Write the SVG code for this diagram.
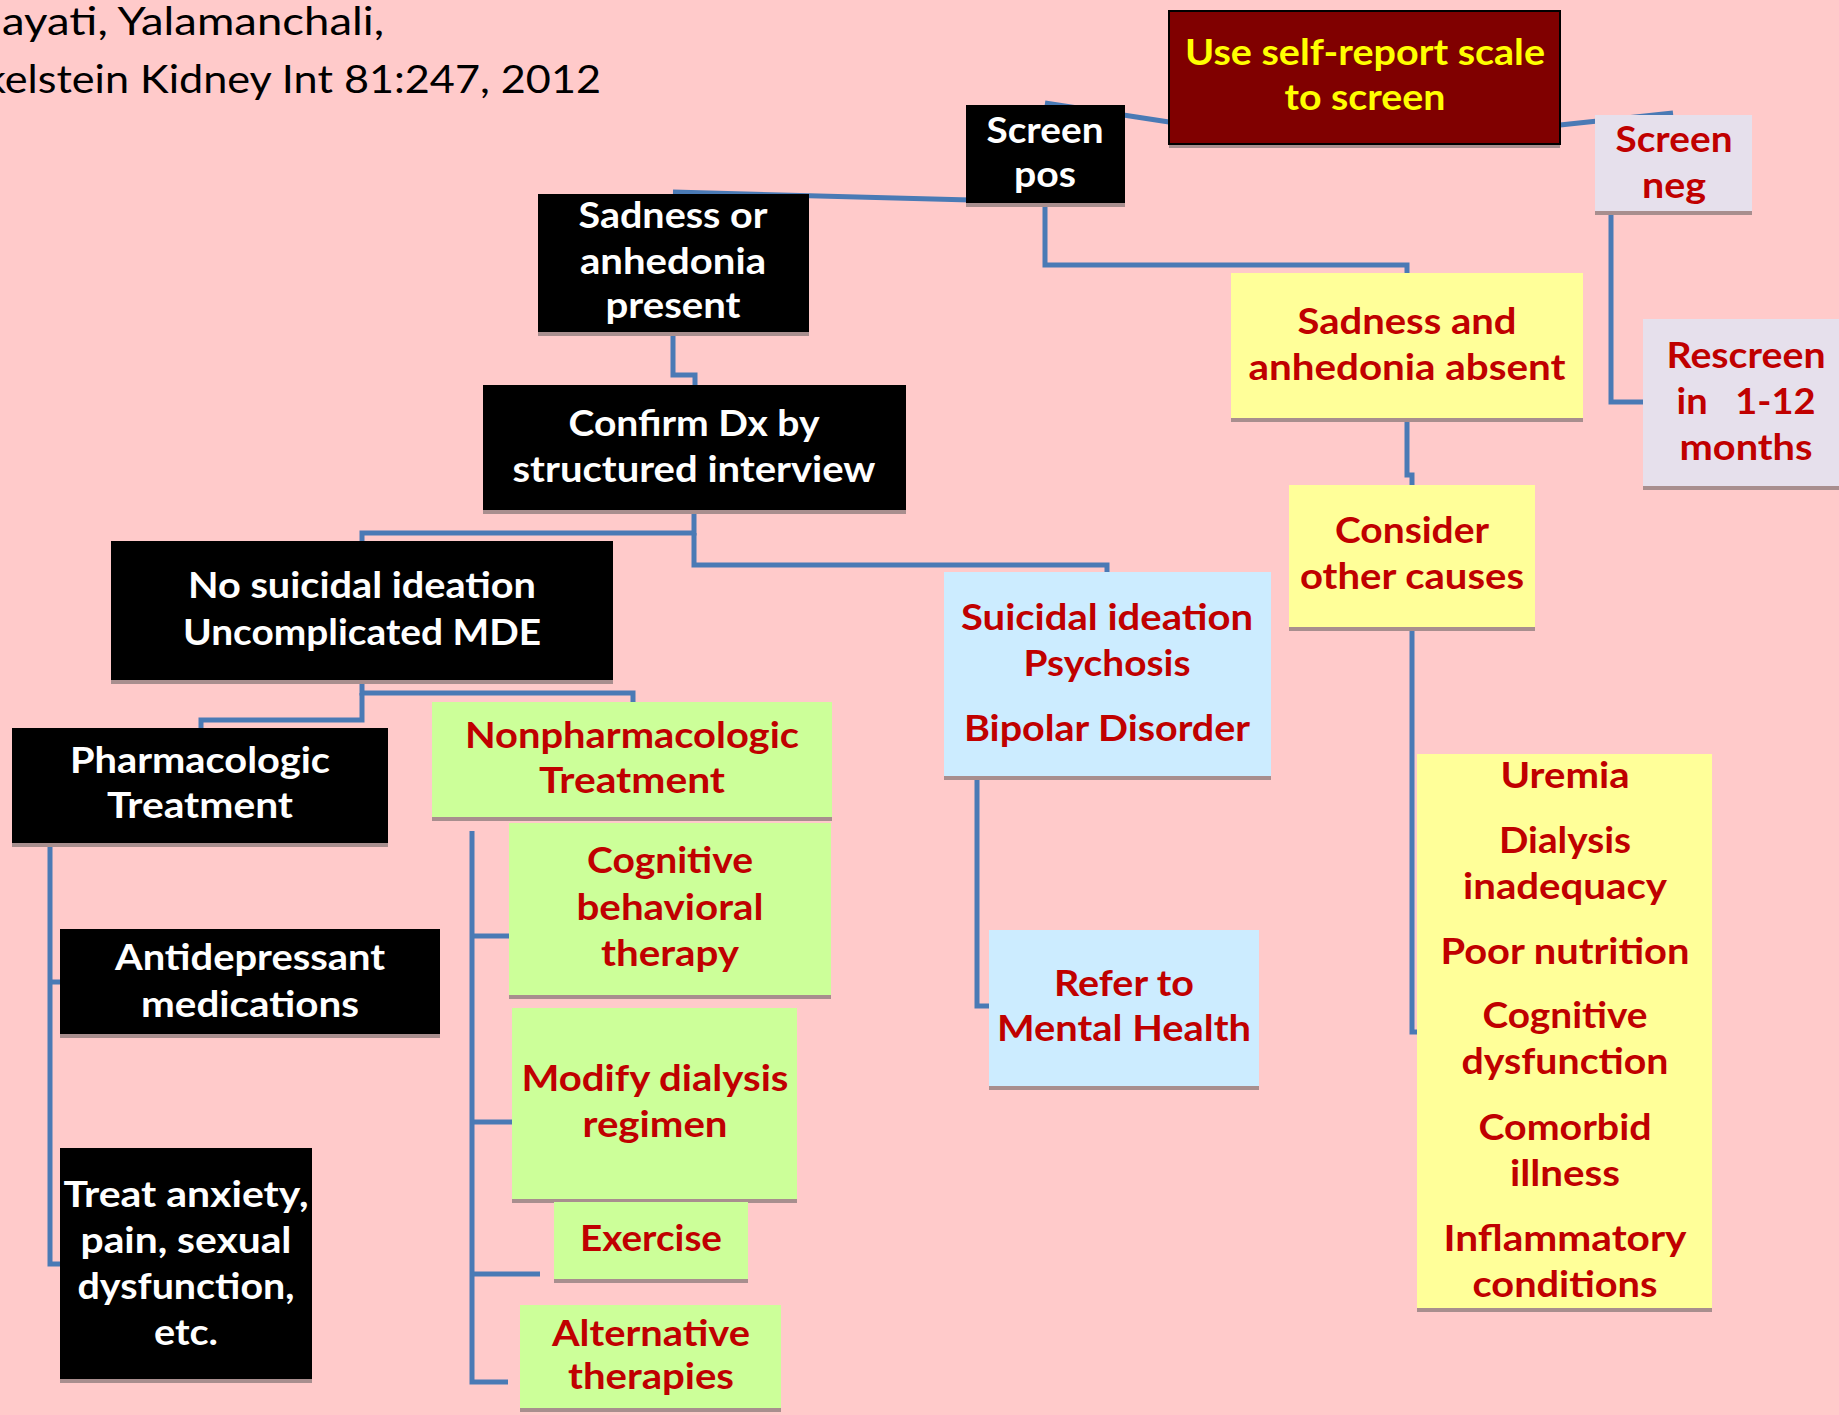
<svg xmlns="http://www.w3.org/2000/svg" width="1839" height="1415" viewBox="0 0 1839 1415">
<style>
.bg{fill:#FFCACA}
.sh{fill:#A88E8E}
.blk{fill:#000000}
.grn{fill:#CCFF99}
.yel{fill:#FFFF99}
.blu{fill:#CCECFF}
.lav{fill:#E6E0EC}
.ttl{fill:#800000;stroke:#000000;stroke-width:2}
text{font-family:Lato,"Open Sans","DejaVu Sans",sans-serif;font-weight:bold;font-size:37px;text-anchor:middle}
.w{fill:#FFFFFF}
.r{fill:#C00000}
.y{fill:#FFFF00}
.cite{font-weight:normal;font-size:39px;fill:#000000;text-anchor:start}
.conn{fill:none;stroke:#4A7AB5;stroke-width:5}
</style>
<rect class="bg" x="0" y="0" width="1839" height="1415"/>

<g id="citation">
<text class="cite" x="2" y="35" textLength="382" lengthAdjust="spacingAndGlyphs">ayati, Yalamanchali,</text>
<text class="cite" x="-16" y="93" textLength="617" lengthAdjust="spacingAndGlyphs">kelstein Kidney Int 81:247, 2012</text>
</g>

<g id="connectors">
<path class="conn" d="M1045,103 L1169,122"/>
<path class="conn" d="M1560,125 L1673,113"/>
<path class="conn" d="M673,192 L1045,202"/>
<path class="conn" d="M1045,203 V265 H1407 V273"/>
<path class="conn" d="M1611,211 V402 H1643"/>
<path class="conn" d="M1407,418 V475 H1412 V485"/>
<path class="conn" d="M1412,627 V1032 H1417"/>
<path class="conn" d="M673,332 V375 H695 V385"/>
<path class="conn" d="M694,510 V533 H362 V541"/>
<path class="conn" d="M694,533 V565 H1107 V572"/>
<path class="conn" d="M362,680 V693 H633 V702"/>
<path class="conn" d="M362,693 V720 H201 V728"/>
<path class="conn" d="M50,843 V1264 H60 M50,982 H60"/>
<path class="conn" d="M472,831 V1382 H508 M472,936 H509 M472,1122 H512 M472,1274 H540"/>
<path class="conn" d="M977,776 V1006 H989"/>
</g>

<g id="title">
<rect class="sh" x="1169" y="15" width="391" height="133"/>
<rect class="ttl" x="1169" y="11" width="391" height="133"/>
<text class="y" x="1365" y="65" textLength="360" lengthAdjust="spacingAndGlyphs">Use self-report scale</text>
<text class="y" x="1365" y="110" textLength="161" lengthAdjust="spacingAndGlyphs">to screen</text>
</g>

<g id="screen-pos">
<rect class="sh" x="966" y="109" width="159" height="98"/>
<rect class="blk" x="966" y="105" width="159" height="98"/>
<text class="w" x="1045" y="143" textLength="117" lengthAdjust="spacingAndGlyphs">Screen</text>
<text class="w" x="1045" y="187" textLength="62" lengthAdjust="spacingAndGlyphs">pos</text>
</g>

<g id="screen-neg">
<rect class="sh" x="1595" y="119" width="157" height="96"/>
<rect class="lav" x="1595" y="115" width="157" height="96"/>
<text class="r" x="1674" y="152" textLength="117" lengthAdjust="spacingAndGlyphs">Screen</text>
<text class="r" x="1674" y="198" textLength="64" lengthAdjust="spacingAndGlyphs">neg</text>
</g>

<g id="absent">
<rect class="sh" x="1231" y="277" width="352" height="145"/>
<rect class="yel" x="1231" y="273" width="352" height="145"/>
<text class="r" x="1407" y="334" textLength="219" lengthAdjust="spacingAndGlyphs">Sadness and</text>
<text class="r" x="1407" y="380" textLength="317" lengthAdjust="spacingAndGlyphs">anhedonia absent</text>
</g>

<g id="rescreen">
<rect class="sh" x="1643" y="323" width="200" height="167"/>
<rect class="lav" x="1643" y="319" width="200" height="167"/>
<text class="r" x="1746" y="368" textLength="159" lengthAdjust="spacingAndGlyphs">Rescreen</text>
<text class="r" x="1746" y="414" textLength="139" lengthAdjust="spacingAndGlyphs" xml:space="preserve">in   1-12</text>
<text class="r" x="1746" y="460" textLength="133" lengthAdjust="spacingAndGlyphs">months</text>
</g>

<g id="consider">
<rect class="sh" x="1289" y="489" width="246" height="142"/>
<rect class="yel" x="1289" y="485" width="246" height="142"/>
<text class="r" x="1412" y="543" textLength="154" lengthAdjust="spacingAndGlyphs">Consider</text>
<text class="r" x="1412" y="589" textLength="224" lengthAdjust="spacingAndGlyphs">other causes</text>
</g>

<g id="suicidal">
<rect class="sh" x="944" y="576" width="327" height="204"/>
<rect class="blu" x="944" y="572" width="327" height="204"/>
<text class="r" x="1107" y="630" textLength="292" lengthAdjust="spacingAndGlyphs">Suicidal ideation</text>
<text class="r" x="1107" y="676" textLength="167" lengthAdjust="spacingAndGlyphs">Psychosis</text>
<text class="r" x="1107" y="741" textLength="286" lengthAdjust="spacingAndGlyphs">Bipolar Disorder</text>
</g>

<g id="refer">
<rect class="sh" x="989" y="934" width="270" height="156"/>
<rect class="blu" x="989" y="930" width="270" height="156"/>
<text class="r" x="1124" y="996" textLength="140" lengthAdjust="spacingAndGlyphs">Refer to</text>
<text class="r" x="1124" y="1041" textLength="254" lengthAdjust="spacingAndGlyphs">Mental Health</text>
</g>

<g id="causes">
<rect class="sh" x="1417" y="758" width="295" height="554"/>
<rect class="yel" x="1417" y="754" width="295" height="554"/>
<text class="r" x="1565" y="788" textLength="129" lengthAdjust="spacingAndGlyphs">Uremia</text>
<text class="r" x="1565" y="853" textLength="132" lengthAdjust="spacingAndGlyphs">Dialysis</text>
<text class="r" x="1565" y="899" textLength="204" lengthAdjust="spacingAndGlyphs">inadequacy</text>
<text class="r" x="1565" y="964" textLength="249" lengthAdjust="spacingAndGlyphs">Poor nutrition</text>
<text class="r" x="1565" y="1028" textLength="165" lengthAdjust="spacingAndGlyphs">Cognitive</text>
<text class="r" x="1565" y="1074" textLength="207" lengthAdjust="spacingAndGlyphs">dysfunction</text>
<text class="r" x="1565" y="1140" textLength="173" lengthAdjust="spacingAndGlyphs">Comorbid</text>
<text class="r" x="1565" y="1186" textLength="110" lengthAdjust="spacingAndGlyphs">illness</text>
<text class="r" x="1565" y="1251" textLength="243" lengthAdjust="spacingAndGlyphs">Inflammatory</text>
<text class="r" x="1565" y="1297" textLength="185" lengthAdjust="spacingAndGlyphs">conditions</text>
</g>

<g id="present">
<rect class="sh" x="538" y="198" width="271" height="138"/>
<rect class="blk" x="538" y="194" width="271" height="138"/>
<text class="w" x="673" y="228" textLength="189" lengthAdjust="spacingAndGlyphs">Sadness or</text>
<text class="w" x="673" y="274" textLength="186" lengthAdjust="spacingAndGlyphs">anhedonia</text>
<text class="w" x="673" y="318" textLength="135" lengthAdjust="spacingAndGlyphs">present</text>
</g>

<g id="confirm">
<rect class="sh" x="483" y="389" width="423" height="125"/>
<rect class="blk" x="483" y="385" width="423" height="125"/>
<text class="w" x="694" y="436" textLength="251" lengthAdjust="spacingAndGlyphs">Confirm Dx by</text>
<text class="w" x="694" y="482" textLength="363" lengthAdjust="spacingAndGlyphs">structured interview</text>
</g>

<g id="no-suicidal">
<rect class="sh" x="111" y="545" width="502" height="139"/>
<rect class="blk" x="111" y="541" width="502" height="139"/>
<text class="w" x="362" y="598" textLength="348" lengthAdjust="spacingAndGlyphs">No suicidal ideation</text>
<text class="w" x="362" y="645" textLength="358" lengthAdjust="spacingAndGlyphs">Uncomplicated MDE</text>
</g>

<g id="pharm">
<rect class="sh" x="12" y="732" width="376" height="115"/>
<rect class="blk" x="12" y="728" width="376" height="115"/>
<text class="w" x="200" y="773" textLength="260" lengthAdjust="spacingAndGlyphs">Pharmacologic</text>
<text class="w" x="200" y="818" textLength="186" lengthAdjust="spacingAndGlyphs">Treatment</text>
</g>

<g id="nonpharm">
<rect class="sh" x="432" y="706" width="400" height="115"/>
<rect class="grn" x="432" y="702" width="400" height="115"/>
<text class="r" x="632" y="748" textLength="334" lengthAdjust="spacingAndGlyphs">Nonpharmacologic</text>
<text class="r" x="632" y="793" textLength="186" lengthAdjust="spacingAndGlyphs">Treatment</text>
</g>

<g id="antidep">
<rect class="sh" x="60" y="933" width="380" height="105"/>
<rect class="blk" x="60" y="929" width="380" height="105"/>
<text class="w" x="250" y="970" textLength="270" lengthAdjust="spacingAndGlyphs">Antidepressant</text>
<text class="w" x="250" y="1017" textLength="218" lengthAdjust="spacingAndGlyphs">medications</text>
</g>

<g id="treat">
<rect class="sh" x="60" y="1152" width="252" height="231"/>
<rect class="blk" x="60" y="1148" width="252" height="231"/>
<text class="w" x="186" y="1207" textLength="245" lengthAdjust="spacingAndGlyphs">Treat anxiety,</text>
<text class="w" x="186" y="1253" textLength="211" lengthAdjust="spacingAndGlyphs">pain, sexual</text>
<text class="w" x="186" y="1299" textLength="217" lengthAdjust="spacingAndGlyphs">dysfunction,</text>
<text class="w" x="186" y="1345" textLength="64" lengthAdjust="spacingAndGlyphs">etc.</text>
</g>

<g id="cbt">
<rect class="sh" x="509" y="827" width="322" height="172"/>
<rect class="grn" x="509" y="823" width="322" height="172"/>
<text class="r" x="670" y="873" textLength="166" lengthAdjust="spacingAndGlyphs">Cognitive</text>
<text class="r" x="670" y="920" textLength="187" lengthAdjust="spacingAndGlyphs">behavioral</text>
<text class="r" x="670" y="966" textLength="138" lengthAdjust="spacingAndGlyphs">therapy</text>
</g>

<g id="modify">
<rect class="sh" x="512" y="1012" width="285" height="191"/>
<rect class="grn" x="512" y="1008" width="285" height="191"/>
<text class="r" x="655" y="1091" textLength="267" lengthAdjust="spacingAndGlyphs">Modify dialysis</text>
<text class="r" x="655" y="1137" textLength="145" lengthAdjust="spacingAndGlyphs">regimen</text>
</g>

<g id="exercise">
<rect class="sh" x="554" y="1206" width="194" height="77"/>
<rect class="grn" x="554" y="1202" width="194" height="77"/>
<text class="r" x="651" y="1251" textLength="142" lengthAdjust="spacingAndGlyphs">Exercise</text>
</g>

<g id="alternative">
<rect class="sh" x="520" y="1309" width="261" height="103"/>
<rect class="grn" x="520" y="1305" width="261" height="103"/>
<text class="r" x="651" y="1346" textLength="198" lengthAdjust="spacingAndGlyphs">Alternative</text>
<text class="r" x="651" y="1389" textLength="166" lengthAdjust="spacingAndGlyphs">therapies</text>
</g>
</svg>
